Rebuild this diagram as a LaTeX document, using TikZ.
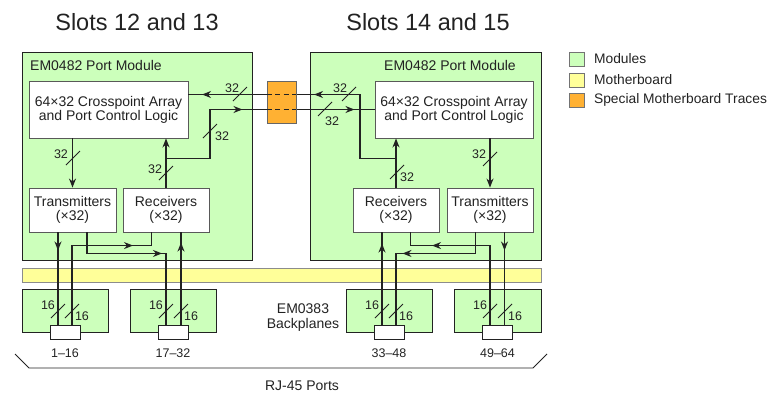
\documentclass[tikz,border=0pt]{standalone}
\usepackage{fontspec}
\setmainfont{Liberation Sans}
\usepackage{tikz}
\usetikzlibrary{arrows.meta, positioning, decorations.markings}
\usepackage{xcolor}
\definecolor{modgreen}{HTML}{CCFFBB}
\definecolor{boardyellow}{HTML}{FFFF99}
\definecolor{traceorange}{HTML}{FFB133}
\definecolor{ink}{HTML}{222222}

\begin{document}
\begin{tikzpicture}[
    x=1pt, y=-1pt,
    bustip/.tip={Stealth[length=9pt, width=7pt]},
    module/.style={rectangle, draw=ink, line width=0.9pt, fill=modgreen, inner sep=0pt},
    board/.style={rectangle, draw=black!45, line width=0.9pt, fill=boardyellow, inner sep=0pt},
    block/.style={rectangle, draw=black!65, line width=0.9pt, fill=white, align=center, inner sep=0pt, text=ink, font=\fontsize{14}{14}\selectfont},
    jack/.style={rectangle, draw=ink, line width=0.9pt, fill=white, inner sep=0pt, minimum width=30pt, minimum height=14pt},
    wire/.style={draw=ink, line width=1.2pt},
    tick/.style={draw=ink, line width=1pt},
    dashes/.style={draw=ink, line width=1pt, dash pattern=on 5pt off 3.5pt},
    tip at/.style={postaction={decorate, decoration={markings, mark=at position #1 with {\arrow{bustip}}}}},
    txt/.style={inner sep=0pt, text=ink, font=\fontsize{14}{15}\selectfont},
    lbl/.style={inner sep=0pt, text=ink, font=\fontsize{12.5}{13}\selectfont},
    title/.style={inner sep=0pt, text=ink, font=\fontsize{23.5}{25}\selectfont},
    key/.style={rectangle, draw=black!55, line width=0.8pt, inner sep=0pt, minimum width=15pt, minimum height=14pt}
]
    \useasboundingbox (0,0) rectangle (771,394);

    % Titles
    \node[title] at (137,22) (slL) {Slots 12 and 13};
    \node[title] at (428,22) (slR) {Slots 14 and 15};

    % Port modules
    \node[module, minimum width=230pt, minimum height=208pt] at (137,156) (modL) {};
    \node[module, minimum width=231pt, minimum height=208pt] at (425.5,156) (modR) {};
    \node[txt, anchor=west] at (30,65) (nmL) {EM0482 Port Module};
    \node[txt] at (450,65) (nmR) {EM0482 Port Module};

    % Motherboard and backplanes
    \node[board, minimum width=519pt, minimum height=14pt] at (281.5,275) (mb) {};
    \foreach \n/\x/\w in {1/65/86, 2/173/86, 3/389/86, 4/497.5/87}
        \node[module, minimum width=\w pt, minimum height=43pt] at (\x,310.5) (bp\n) {};
    \foreach \n/\x/\t in {1/65/1–16, 2/173/17–32, 3/389/33–48, 4/497.5/49–64} {
        \node[jack] at (\x,332) (rj\n) {};
        \node[lbl] at (\x,353) (pn\n) {\t};
    }
    \node[txt, align=center] at (303,317.5) (bpn) {EM0383\\Backplanes};

    % Blocks
    \node[block, minimum width=159pt, minimum height=57pt] at (108.5,109.5) (xpL) {64×32 Crosspoint Array\\and Port Control Logic};
    \node[block, minimum width=158pt, minimum height=57pt] at (454,109.5) (xpR) {64×32 Crosspoint Array\\and Port Control Logic};
    \node[block, minimum width=87pt, minimum height=44pt] at (72.5,210) (txL) {Transmitters\\(×32)};
    \node[block, minimum width=86pt, minimum height=44pt] at (166,210) (rxL) {Receivers\\(×32)};
    \node[block, minimum width=86pt, minimum height=44pt] at (396,210) (rxR) {Receivers\\(×32)};
    \node[block, minimum width=86pt, minimum height=44pt] at (490,210) (txR) {Transmitters\\(×32)};

    \coordinate (jL) at ([yshift=29pt]rxL.north);
    \coordinate (jR) at ([yshift=29pt]rxR.north);
    \coordinate (upL) at ([yshift=15pt]xpL.east);

    % Crosspoint <-> transceivers
    \draw[wire, -{bustip}] (xpL.south -| txL.north) -- (txL.north);
    \draw[wire, -{bustip}] (rxL.north) -- (rxL.north |- xpL.south);
    \draw[wire, -{bustip}] (rxR.north) -- (rxR.north |- xpR.south);
    \draw[wire, -{bustip}] (xpR.south -| txR.north) -- (txR.north);

    % Traces between the slots
    \draw[wire, tip at=125.5pt, tip at=237.5pt] (jL) -- ++(44,0) |- (xpR.west);
    \draw[wire, tip at=146pt, tip at=258pt] (jR) -- ++(-36,0) |- (upL);
    \node[board, fill=traceorange, draw=black!60, minimum width=29pt, minimum height=42pt] at (281.5,102) (sp) {};
    \draw[dashes] (sp.west |- xpR.west) -- (sp.east |- xpR.west);
    \draw[dashes] (sp.west |- upL) -- (sp.east |- upL);

    % Transceivers <-> backplanes
    \draw[wire, tip at=18pt] ([xshift=-14.5pt]txL.south) -- ([xshift=-14.5pt]txL.south |- rj1.north);
    \draw[wire, tip at=96pt] ([xshift=14.5pt]txL.south) -- ++(0,21) -| ([xshift=-7pt]rj2.north);
    \draw[wire, tip at=140pt] ([xshift=7pt]rj1.north) -- ++(0,-79) -| ([xshift=-14.5pt]rxL.south);
    \draw[wire, tip at=82pt] ([xshift=8pt]rj2.north) -- ([xshift=8pt]rj2.north |- rxL.south);
    \draw[wire, tip at=81pt] ([xshift=-7pt]rj3.north) -- ([xshift=-7pt]rj3.north |- rxR.south);
    \draw[wire, tip at=94pt] ([xshift=-14.5pt]txR.south) -- ++(0,21) -| ([xshift=7pt]rj3.north);
    \draw[wire, tip at=137pt] ([xshift=-7.5pt]rj4.north) -- ++(0,-79) -| ([xshift=14.5pt]rxR.south);
    \draw[wire, tip at=18pt] ([xshift=14.5pt]txR.south) -- ([xshift=14.5pt]txR.south |- rj4.north);

    % Bus widths
    \foreach \n/\x/\y/\lx/\ly in {a/73/158/61/154, b/166/173/155/169, c/210/131/222/136, d/240/94/232/88,
                                  e/349/94/340/88, f/325/109/332/121, g/397/172/407/177, h/490/159/479/154} {
        \draw[tick] (\x,\y) +(-7,7) -- +(7,-7);
        \node[lbl] at (\lx,\ly) (w\n) {32};
    }
    \foreach \a/\b in {58/72, 166/181, 382/396, 490/505} {
        \draw[tick] (\a,311) +(-7,7) -- +(7,-7);
        \draw[tick] (\b,311) +(-7,7) -- +(7,-7);
        \node[lbl] at (\a-10,305) (ka\a) {16};
        \node[lbl] at (\b+10,316) (kb\b) {16};
    }

    % RJ-45 bracket
    \draw[ink, line width=0.9pt] (15,354) -- (29,368) -- (533,368) -- (547,354);
    \node[txt] at (302,386) (rjn) {RJ-45 Ports};

    % Legend
    \foreach \n/\c/\t/\y in {mod/modgreen/Modules/59, brd/boardyellow/Motherboard/80, spc/traceorange/Special Motherboard Traces/100} {
        \node[key, fill=\c] at (576.5,\y) (k\n) {};
        \node[txt, font=\fontsize{13.8}{15}\selectfont, right=9.5pt of k\n] (t\n) {\t};
    }
\end{tikzpicture}
\end{document}
